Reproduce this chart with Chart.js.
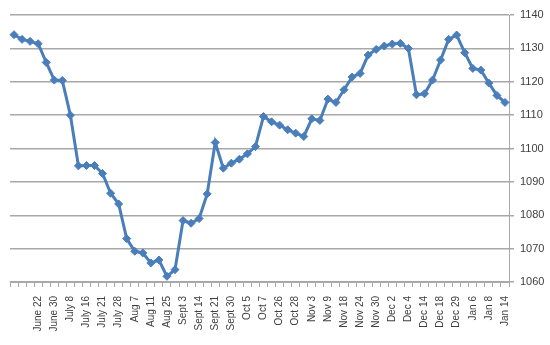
<!DOCTYPE html>
<html>
<head>
<meta charset="utf-8">
<script src="https://cdn.jsdelivr.net/npm/chart.js@4/dist/chart.umd.min.js"></script>
<style>
    html, body { margin: 0; padding: 0; background: #fff; }
    #wrap { width: 550px; height: 345px; }
</style>
</head>
<body>
<div id="wrap"><canvas id="priceChart" width="550" height="345"></canvas></div>
<script>
// Dates shown on the axis (every other point, starting at the 4th)
const tickLabels = [
    'June 22', 'June 30', 'July 8', 'July 16', 'July 21', 'July 28', 'Aug 7',
    'Aug 11', 'Aug 25', 'Sept 3', 'Sept 14', 'Sept 21', 'Sept 30', 'Oct 5',
    'Oct 7', 'Oct 26', 'Oct 28', 'Nov 3', 'Nov 9', 'Nov 18', 'Nov 24',
    'Nov 30', 'Dec 2', 'Dec 4', 'Dec 14', 'Dec 18', 'Dec 29', 'Jan 6',
    'Jan 8', 'Jan 14'
];

// Closing values, one per point
const values = [
    1134.1, 1132.7, 1132.1, 1131.4, 1125.8, 1120.5, 1120.4, 1110.0,
    1094.8, 1094.9, 1094.9, 1092.5, 1086.6, 1083.4, 1073.0, 1069.2,
    1068.7, 1065.7, 1066.6, 1061.7, 1063.7, 1078.4, 1077.6, 1079.0,
    1086.4, 1101.8, 1094.1, 1095.6, 1096.8, 1098.4, 1100.6, 1109.6,
    1108.0, 1107.0, 1105.6, 1104.6, 1103.6, 1108.9, 1108.4, 1114.8,
    1113.8, 1117.6, 1121.4, 1122.5, 1128.0, 1129.7, 1130.7, 1131.3,
    1131.5, 1130.0, 1116.1, 1116.4, 1120.5, 1126.5, 1132.7, 1134.0,
    1128.7, 1124.0, 1123.5, 1119.6, 1115.9, 1113.8
];

const yMin = 1060;
const yMax = 1140;
const yStep = 10;

// one category per point, only the odd ones from index 3 get a date
const categories = values.map((v, i) =>
    (i >= 3 && i % 2 === 1) ? tickLabels[(i - 3) / 2] : '');

const blue = '#4a7ebb';
const gridGray = '#a8a8a8';

new Chart(document.getElementById('priceChart'), {
    type: 'line',
    data: {
        labels: categories,
        datasets: [{
            data: values,
            borderColor: blue,
            backgroundColor: blue,
            borderWidth: 3,
            pointStyle: 'rectRot',
            pointRadius: 4,
            pointBorderWidth: 1,
            pointBackgroundColor: blue,
            pointBorderColor: blue,
            tension: 0
        }]
    },
    options: {
        responsive: false,
        animation: false,
        layout: {
            padding: { left: 10, top: 15, right: 0, bottom: 0 }
        },
        plugins: {
            legend: { display: false },
            tooltip: { enabled: false }
        },
        scales: {
            x: {
                offset: true,
                afterFit: (scale) => { scale.height = 63; },
                border: { color: gridGray, width: 1 },
                grid: {
                    offset: true,
                    drawOnChartArea: false,
                    drawTicks: true,
                    tickLength: 5,
                    color: gridGray
                },
                ticks: {
                    autoSkip: false,
                    maxRotation: 90,
                    minRotation: 90,
                    padding: 9,
                    color: '#404040',
                    font: { family: 'Liberation Sans', size: 10 }
                }
            },
            y: {
                position: 'right',
                min: yMin,
                max: yMax,
                afterFit: (scale) => { scale.width = 41; },
                border: { color: gridGray, width: 1 },
                grid: {
                    color: gridGray,
                    lineWidth: 1.5,
                    drawTicks: true,
                    tickLength: 5
                },
                ticks: {
                    stepSize: yStep,
                    padding: 6,
                    color: '#404040',
                    font: { family: 'Liberation Sans', size: 11 },
                    callback: (v) => String(v)
                }
            }
        }
    }
});
</script>
</body>
</html>
